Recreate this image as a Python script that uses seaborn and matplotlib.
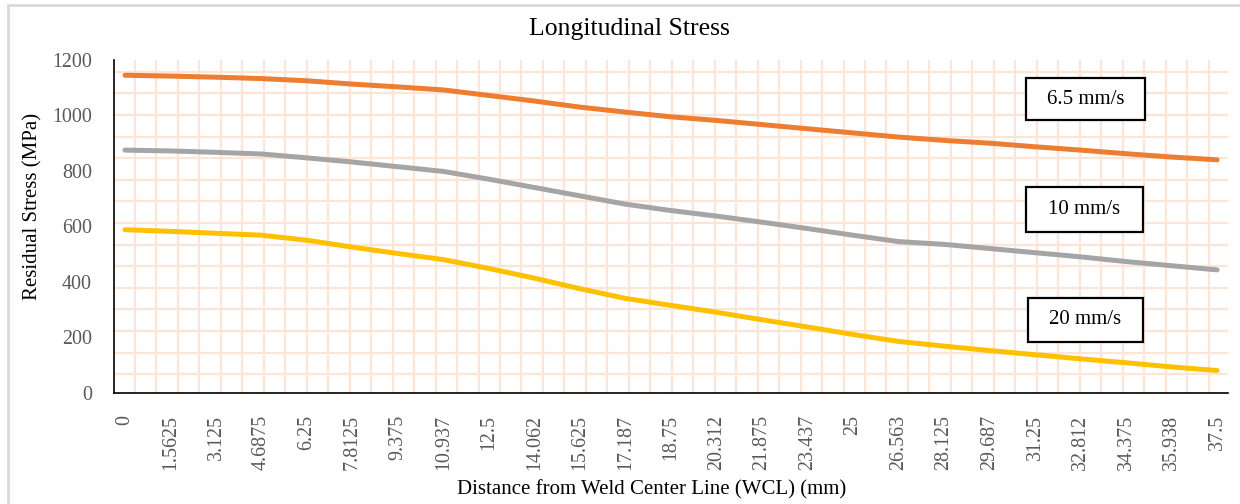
import numpy as np
import pandas as pd
import matplotlib.pyplot as plt
import matplotlib.patches as mpatches
from matplotlib.lines import Line2D
import seaborn as sns

# x categories (distance from WCL, mm) as shown on the axis
distance_labels = ['0', '1.5625', '3.125', '4.6875', '6.25', '7.8125', '9.375',
                   '10.937', '12.5', '14.062', '15.625', '17.187', '18.75',
                   '20.312', '21.875', '23.437', '25', '26.563', '28.125',
                   '29.687', '31.25', '32.812', '34.375', '35.938', '37.5']

# residual stress (MPa) for each welding speed
stress_6_5 = [1145, 1142, 1138, 1133, 1125, 1113, 1103, 1092, 1072, 1052, 1030,
              1012, 995, 982, 967, 952, 937, 922, 910, 900, 887, 875, 862, 850, 840]
stress_10 = [875, 872, 867, 861, 847, 832, 815, 798, 770, 740, 710, 680, 657,
             637, 615, 592, 568, 545, 535, 520, 505, 490, 473, 458, 443]
stress_20 = [588, 582, 575, 568, 550, 525, 502, 480, 448, 413, 375, 340, 315,
             290, 263, 237, 210, 185, 168, 152, 137, 122, 108, 93, 80]

speeds = ['6.5 mm/s', '10 mm/s', '20 mm/s']
colors = ['#ED7D31', '#A5A5A5', '#FFC000']

pos = np.arange(len(distance_labels))
df = pd.concat([
    pd.DataFrame({'pos': pos, 'stress': s, 'speed': name})
    for s, name in zip([stress_6_5, stress_10, stress_20], speeds)
])

sns.set_style("white")
plt.rcParams['font.family'] = ['Liberation Serif', 'DejaVu Serif']

W, H = 1240, 504
fig = plt.figure(figsize=(12.4, 5.04), dpi=100)
# axes placed in pixel terms
ax_l, ax_r, ax_t, ax_b = 114.3, 1228, 60, 392.7
ax = fig.add_axes([ax_l / W, 1 - ax_b / H, (ax_r - ax_l) / W, (ax_b - ax_t) / H])

def fx(px):
    return (px - ax_l) / (ax_r - ax_l)

def fy(py):
    return (ax_b - py) / (ax_b - ax_t)

# background grid pattern (Excel pattern fill, not tied to data ticks)
grid_col = '#FCE4D6'
for n in range(51):
    x = fx(135 + 21.47 * n)
    if x <= 1:
        ax.add_line(Line2D([x, x], [0, 1], transform=ax.transAxes,
                           color=grid_col, lw=1.6, zorder=0))
for n in range(15):
    y = fy(71.7 + 21.6 * n)
    ax.add_line(Line2D([0, 1], [y, y], transform=ax.transAxes,
                       color=grid_col, lw=1.6, zorder=0))

sns.lineplot(data=df, x='pos', y='stress', hue='speed', palette=colors,
             hue_order=speeds, linewidth=3.6, legend=False, ax=ax,
             solid_capstyle='round', solid_joinstyle='round', zorder=3)

ax.set_xlim(-0.235, 24.24)
ax.set_ylim(0, 1200)
ax.set_yticks(np.arange(0, 1201, 200))
ax.set_xticks(pos)
ax.set_xticklabels(distance_labels, rotation=90, va='top', ha='center')
ax.tick_params(axis='both', length=0, labelsize=14.4, labelcolor='#595959')
ax.tick_params(axis='x', pad=16)
ax.tick_params(axis='y', pad=16)
ax.set_xlabel('')
ax.set_ylabel('')

for side in ['top', 'right']:
    ax.spines[side].set_visible(False)
for side in ['left', 'bottom']:
    ax.spines[side].set_color('black')
    ax.spines[side].set_linewidth(1.2)

# labelled boxes
boxes = [(1026, 78, 1145, 120, '6.5 mm/s'),
         (1026, 187, 1143, 232, '10 mm/s'),
         (1028, 298, 1143, 342, '20 mm/s')]
for x0, y0, x1, y1, label in boxes:
    rect = mpatches.Rectangle((fx(x0), fy(y1)), fx(x1) - fx(x0), fy(y0) - fy(y1),
                              transform=ax.transAxes, facecolor='white',
                              edgecolor='black', lw=1.6, zorder=5)
    ax.add_patch(rect)
    ax.text((fx(x0) + fx(x1)) / 2, (fy(y0) + fy(y1)) / 2, label,
            transform=ax.transAxes, ha='center', va='center',
            fontsize=15, color='black', zorder=6)

fig.text(629.5 / W, 1 - 29 / H, 'Longitudinal Stress', ha='center', va='center',
         fontsize=18.5, color='black')
fig.text(652 / W, 1 - 490 / H, 'Distance from Weld Center Line (WCL) (mm)',
         ha='center', va='center', fontsize=15, color='black')
fig.text(33 / W, 1 - 206 / H, 'Residual Stress (MPa)', ha='center', va='center',
         rotation=90, fontsize=15, color='black')

# chart border
fig.add_artist(Line2D([8 / W, 8 / W], [0, 1 - 5 / H], color='#D9D9D9', lw=2))
fig.add_artist(Line2D([8 / W, 1], [1 - 5 / H, 1 - 5 / H], color='#D9D9D9', lw=2))

fig.savefig('out.png', dpi=100, facecolor='white')
